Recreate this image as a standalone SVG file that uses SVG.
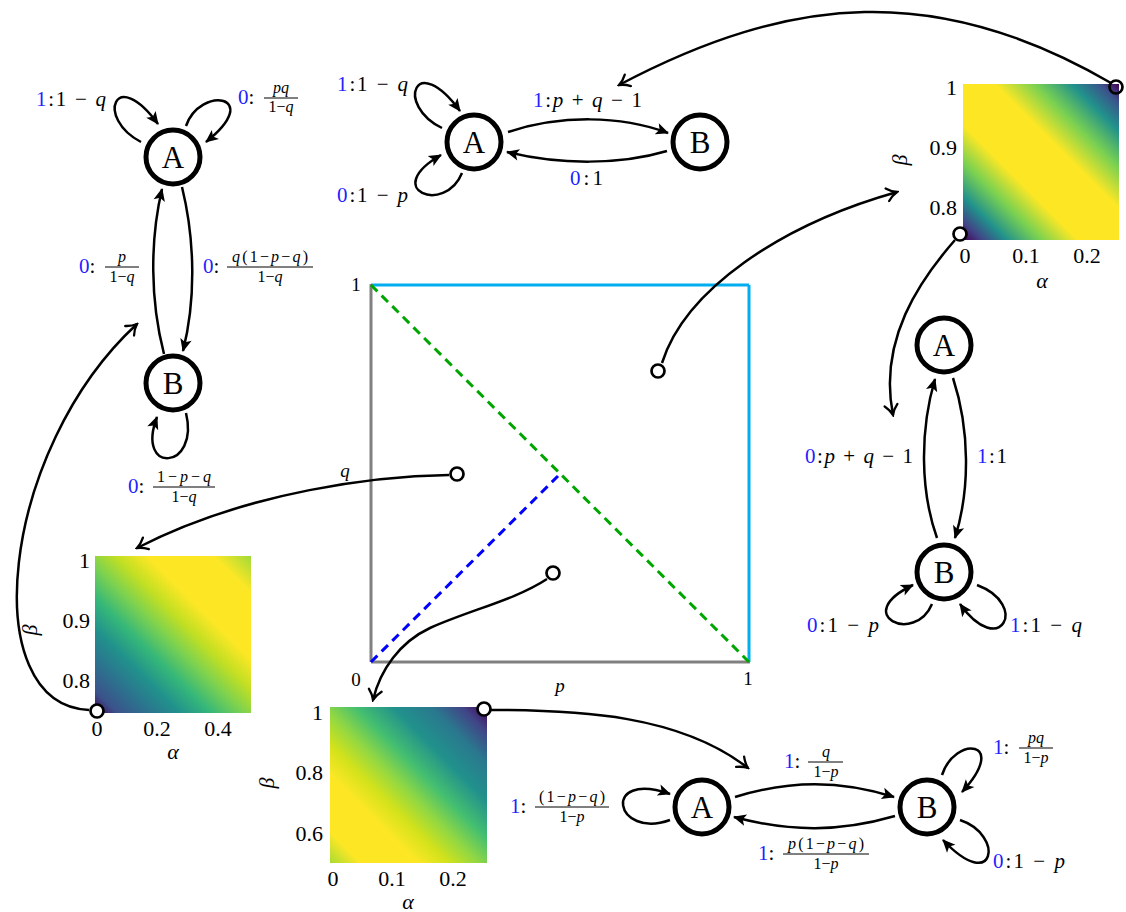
<svg xmlns="http://www.w3.org/2000/svg" width="1126" height="912" viewBox="0 0 1126 912">
<style>
text { font-family: "Liberation Serif", "DejaVu Serif", serif; fill:#000; }
.n circle { fill:#fff; stroke:#000; stroke-width:5; }
.n text { font-size:31px; text-anchor:middle; }
.e { fill:none; stroke:#000; stroke-width:2.5; marker-end:url(#ah); }
.c { fill:none; stroke:#000; stroke-width:2.5; marker-end:url(#to); }
.l { font-size:21px; }
.b { fill:#1f1fff; }
.i { font-style:italic; }
.f { font-size:16px; text-anchor:middle; }
.bar { stroke:#000; stroke-width:1; }
.tm { font-size:22px; text-anchor:middle; }
.te { font-size:22px; text-anchor:end; }
.pt { fill:#fff; stroke:#000; stroke-width:2.7; }
.pn { fill:none; stroke:#000; stroke-width:2.7; }
.sq { font-size:19px; text-anchor:middle; }
</style>
<defs>
<marker id="ah" markerUnits="userSpaceOnUse" viewBox="-14 -7 16 14" markerWidth="16" markerHeight="14" refX="0" refY="0" orient="auto">
<path d="M1,0 L-12,-5.8 L-9,0 L-12,5.8 Z" fill="#000"/>
</marker>
<marker id="to" markerUnits="userSpaceOnUse" viewBox="-12 -8 14 16" markerWidth="14" markerHeight="16" refX="0" refY="0" orient="auto">
<path d="M-10,-6.5 C-6,-2.5 -2,-0.7 0,0 C-2,0.7 -6,2.5 -10,6.5" fill="none" stroke="#000" stroke-width="2.3" stroke-linecap="round"/>
</marker>
<linearGradient id="gTR" gradientUnits="userSpaceOnUse" x1="963" y1="240" x2="1119" y2="84">
<stop offset="0" stop-color="#440154"/>
<stop offset="0.06" stop-color="#414487"/>
<stop offset="0.14" stop-color="#21918c"/>
<stop offset="0.25" stop-color="#7ad151"/>
<stop offset="0.37" stop-color="#fde725"/>
<stop offset="0.6" stop-color="#fde725"/>
<stop offset="0.73" stop-color="#7ad151"/>
<stop offset="0.85" stop-color="#21918c"/>
<stop offset="0.94" stop-color="#3b528b"/>
<stop offset="1" stop-color="#440154"/>
</linearGradient>
<linearGradient id="gL" gradientUnits="userSpaceOnUse" x1="95" y1="713" x2="251" y2="556">
<stop offset="0" stop-color="#440154"/>
<stop offset="0.07" stop-color="#3b528b"/>
<stop offset="0.17" stop-color="#2c728e"/>
<stop offset="0.27" stop-color="#21918c"/>
<stop offset="0.37" stop-color="#35b779"/>
<stop offset="0.47" stop-color="#7ad151"/>
<stop offset="0.57" stop-color="#c2df23"/>
<stop offset="0.67" stop-color="#fde725"/>
<stop offset="0.88" stop-color="#fde725"/>
<stop offset="1" stop-color="#a0da39"/>
</linearGradient>
<linearGradient id="gB" gradientUnits="userSpaceOnUse" x1="487" y1="707" x2="330" y2="863">
<stop offset="0" stop-color="#440154"/>
<stop offset="0.08" stop-color="#414487"/>
<stop offset="0.18" stop-color="#2a788e"/>
<stop offset="0.3" stop-color="#21918c"/>
<stop offset="0.42" stop-color="#44bf70"/>
<stop offset="0.52" stop-color="#8fd744"/>
<stop offset="0.62" stop-color="#d2e21b"/>
<stop offset="0.72" stop-color="#fde725"/>
<stop offset="0.9" stop-color="#fde725"/>
<stop offset="1" stop-color="#a8db34"/>
</linearGradient>
</defs>

<!-- center square -->
<g id="square">
<line x1="371" y1="285" x2="749" y2="285" stroke="#00aeef" stroke-width="3"/>
<line x1="749" y1="285" x2="749" y2="662" stroke="#00aeef" stroke-width="3"/>
<line x1="371" y1="284" x2="371" y2="662" stroke="#808080" stroke-width="3"/>
<line x1="371" y1="662" x2="750" y2="662" stroke="#808080" stroke-width="3"/>
<line x1="371" y1="285" x2="749" y2="662" stroke="#00a600" stroke-width="3" stroke-dasharray="9,6"/>
<line x1="371" y1="662" x2="558" y2="476" stroke="#0000ff" stroke-width="3" stroke-dasharray="9,6"/>
<text class="sq" x="356" y="291">1</text>
<text class="sq" x="356" y="686">0</text>
<text class="sq" x="748" y="685">1</text>
<text class="sq i" x="560" y="692">p</text>
<text class="sq i" x="345" y="477">q</text>
</g>

<!-- heatmaps -->
<g id="heat-tr">
<rect x="963" y="84" width="156" height="156" fill="url(#gTR)"/>
<text class="te" x="957" y="95">1</text>
<text class="te" x="957" y="155">0.9</text>
<text class="te" x="957" y="215">0.8</text>
<text class="tm" x="965" y="263">0</text>
<text class="tm" x="1026" y="263">0.1</text>
<text class="tm" x="1087" y="263">0.2</text>
<text class="tm i" x="1042" y="288">α</text>
<text class="tm i" transform="translate(900,160) rotate(-90)" y="7">β</text>
</g>
<g id="heat-l">
<rect x="95" y="556" width="156" height="157" fill="url(#gL)"/>
<text class="te" x="90" y="568">1</text>
<text class="te" x="90" y="628">0.9</text>
<text class="te" x="90" y="688">0.8</text>
<text class="tm" x="97" y="736">0</text>
<text class="tm" x="157" y="736">0.2</text>
<text class="tm" x="218" y="736">0.4</text>
<text class="tm i" x="173" y="759">α</text>
<text class="tm i" transform="translate(30,630) rotate(-90)" y="7">β</text>
</g>
<g id="heat-b">
<rect x="330" y="707" width="157" height="156" fill="url(#gB)"/>
<text class="te" x="323" y="720">1</text>
<text class="te" x="323" y="780">0.8</text>
<text class="te" x="323" y="841">0.6</text>
<text class="tm" x="333" y="886">0</text>
<text class="tm" x="392" y="886">0.1</text>
<text class="tm" x="453" y="886">0.2</text>
<text class="tm i" x="408" y="909">α</text>
<text class="tm i" transform="translate(267,783) rotate(-90)" y="7">β</text>
</g>

<!-- connectors -->
<g id="connectors">
<path class="c" d="M662,363 C685,290 780,225 897,192"/>
<path class="c" d="M449,475 C380,476 250,490 137,548"/>
<path class="c" d="M547,579 C515,600 470,610 430,628 C400,642 380,670 373,700"/>
<path class="c" d="M1111,83 C938,-18 791,-6 619,85"/>
<path class="c" d="M955,240 C920,280 878,340 893,415"/>
<path class="c" d="M89,710 C-25,705 0,450 137,324"/>
<path class="c" d="M491,710 C580,710 680,715 748,768"/>
<path class="e" d="M182,187 C195,240 196,300 183,351"/>
<path class="e" d="M164,354 C150,300 150,240 162,189"/>
<path class="e" d="M141,142 C95,118 115,65 158,124"/>
<path class="e" d="M186,126 C200,85 265,95 206,142"/>
<path class="e" d="M186,413 C200,470 135,475 157,417"/>
<path class="e" d="M508,132 C560,115 620,115 668,133"/>
<path class="e" d="M667,151 C620,165 560,165 507,152"/>
<path class="e" d="M442,128 C395,105 415,50 460,111"/>
<path class="e" d="M462,173 C445,215 380,190 441,155"/>
<path class="e" d="M953,378 C970,430 970,490 955,538"/>
<path class="e" d="M937,538 C920,490 920,430 935,379"/>
<path class="e" d="M932,604 C915,645 850,615 913,585"/>
<path class="e" d="M977,585 C1030,605 1000,660 960,604"/>
<path class="e" d="M735,797 C790,780 840,780 894,797"/>
<path class="e" d="M895,816 C840,832 790,832 734,817"/>
<path class="e" d="M670,820 C615,840 600,770 670,794"/>
<path class="e" d="M942,775 C955,735 1010,740 962,792"/>
<path class="e" d="M960,820 C1005,835 995,895 943,840"/>
<circle class="pt" cx="658" cy="371" r="6.5"/>
<circle class="pt" cx="457" cy="474" r="6.5"/>
<circle class="pt" cx="553" cy="573" r="6.5"/>
<circle class="pn" cx="1116" cy="87" r="6.5"/>
<circle class="pt" cx="960" cy="234" r="6.5"/>
<circle class="pt" cx="97" cy="711" r="6.5"/>
<circle class="pt" cx="484" cy="709" r="6.5"/>
</g>

<!-- top-left automaton -->
<g id="tl-A" class="n"><circle cx="173" cy="157" r="27"/><text x="173" y="168">A</text></g>
<g id="tl-B" class="n"><circle cx="173" cy="383" r="27"/><text x="173" y="394">B</text></g>
<g id="tl-labels">
<text class="l" x="36" y="106" textLength="70"><tspan class="b">1</tspan>:1 − <tspan class="i">q</tspan></text>
<text class="l" x="238" y="104"><tspan class="b">0</tspan>:</text>
<text class="f i" x="281" y="93">pq</text>
<line class="bar" x1="264" y1="98" x2="298" y2="98"/>
<text class="f" x="281" y="112">1−<tspan class="i">q</tspan></text>
<text class="l" x="79" y="273"><tspan class="b">0</tspan>:</text>
<text class="f i" x="122" y="262">p</text>
<line class="bar" x1="105" y1="267" x2="139" y2="267"/>
<text class="f" x="122" y="282">1−<tspan class="i">q</tspan></text>
<text class="l" x="203" y="273"><tspan class="b">0</tspan>:</text>
<text class="f" x="270" y="262" textLength="76"><tspan class="i">q</tspan>(1−<tspan class="i">p</tspan>−<tspan class="i">q</tspan>)</text>
<line class="bar" x1="227" y1="267" x2="313" y2="267"/>
<text class="f" x="270" y="282">1−<tspan class="i">q</tspan></text>
<text class="l" x="128" y="493"><tspan class="b">0</tspan>:</text>
<text class="f" x="184" y="482" textLength="54">1−<tspan class="i">p</tspan>−<tspan class="i">q</tspan></text>
<line class="bar" x1="153" y1="487" x2="215" y2="487"/>
<text class="f" x="184" y="502">1−<tspan class="i">q</tspan></text>
</g>

<!-- top-middle automaton -->
<g id="tm-A" class="n"><circle cx="474" cy="142" r="27"/><text x="474" y="153">A</text></g>
<g id="tm-B" class="n"><circle cx="700" cy="142" r="27"/><text x="700" y="153">B</text></g>
<g id="tm-labels">
<text class="l" x="337" y="91" textLength="71"><tspan class="b">1</tspan>:1 − <tspan class="i">q</tspan></text>
<text class="l" x="337" y="202" textLength="71"><tspan class="b">0</tspan>:1 − <tspan class="i">p</tspan></text>
<text class="l" x="533" y="107" textLength="109"><tspan class="b">1</tspan>:<tspan class="i">p</tspan> + <tspan class="i">q</tspan> − 1</text>
<text class="l" x="570" y="185" textLength="33"><tspan class="b">0</tspan>:1</text>
</g>

<!-- right automaton -->
<g id="r-A" class="n"><circle cx="944" cy="345" r="27"/><text x="944" y="356">A</text></g>
<g id="r-B" class="n"><circle cx="944" cy="572" r="27"/><text x="944" y="583">B</text></g>
<g id="r-labels">
<text class="l" x="805" y="463" textLength="108"><tspan class="b">0</tspan>:<tspan class="i">p</tspan> + <tspan class="i">q</tspan> − 1</text>
<text class="l" x="977" y="463" textLength="30"><tspan class="b">1</tspan>:1</text>
<text class="l" x="807" y="632" textLength="72"><tspan class="b">0</tspan>:1 − <tspan class="i">p</tspan></text>
<text class="l" x="1010" y="632" textLength="72"><tspan class="b">1</tspan>:1 − <tspan class="i">q</tspan></text>
</g>

<!-- bottom automaton -->
<g id="b-A" class="n"><circle cx="702" cy="807" r="27"/><text x="702" y="818">A</text></g>
<g id="b-B" class="n"><circle cx="927" cy="807" r="27"/><text x="927" y="818">B</text></g>
<g id="b-labels">
<text class="l" x="510" y="813"><tspan class="b">1</tspan>:</text>
<text class="f" x="572" y="802" textLength="66">(1−<tspan class="i">p</tspan>−<tspan class="i">q</tspan>)</text>
<line class="bar" x1="535" y1="807" x2="609" y2="807"/>
<text class="f" x="572" y="822">1−<tspan class="i">p</tspan></text>
<text class="l" x="784" y="768"><tspan class="b">1</tspan>:</text>
<text class="f i" x="826" y="757">q</text>
<line class="bar" x1="808" y1="762" x2="843" y2="762"/>
<text class="f" x="826" y="777">1−<tspan class="i">p</tspan></text>
<text class="l" x="758" y="860"><tspan class="b">1</tspan>:</text>
<text class="f" x="826" y="849" textLength="76"><tspan class="i">p</tspan>(1−<tspan class="i">p</tspan>−<tspan class="i">q</tspan>)</text>
<line class="bar" x1="783" y1="854" x2="869" y2="854"/>
<text class="f" x="826" y="869">1−<tspan class="i">p</tspan></text>
<text class="l" x="993" y="754"><tspan class="b">1</tspan>:</text>
<text class="f i" x="1036" y="743">pq</text>
<line class="bar" x1="1019" y1="748" x2="1053" y2="748"/>
<text class="f" x="1036" y="763">1−<tspan class="i">p</tspan></text>
<text class="l" x="993" y="868" textLength="72"><tspan class="b">0</tspan>:1 − <tspan class="i">p</tspan></text>
</g>
</svg>
